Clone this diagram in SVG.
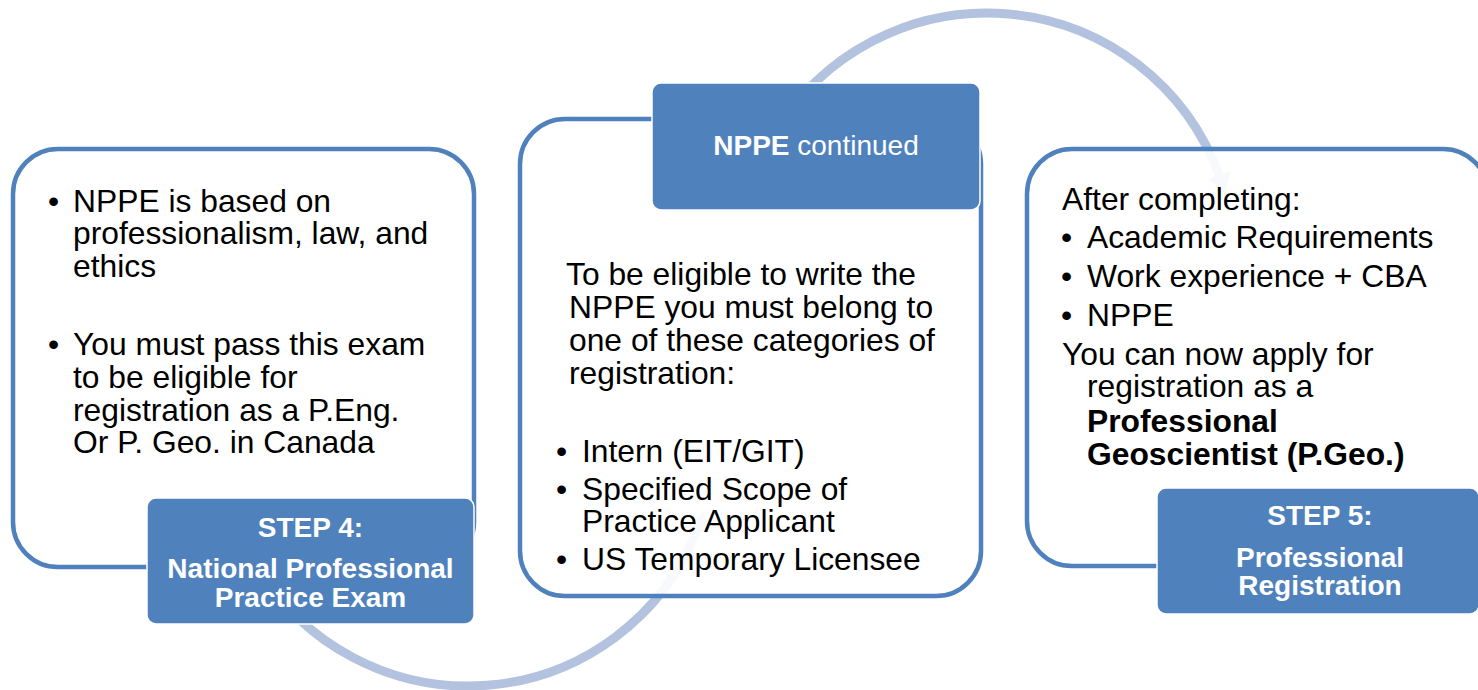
<svg xmlns="http://www.w3.org/2000/svg" width="1478" height="690" viewBox="0 0 1478 690">
<style>
.panel{fill:#ffffff;fill-opacity:0.9;stroke:#4F81BD;stroke-width:4.5}
.label{fill:#4F81BD;stroke:#ffffff;stroke-width:1.5}
.arc{fill:none;stroke:#B3C2DE;stroke-width:9}
.body{font-family:"Liberation Sans",Arial,sans-serif;font-size:31.8px;fill:#000000}
.lbl{font-family:"Liberation Sans",Arial,sans-serif;font-size:28px;font-weight:bold;fill:#ffffff;text-anchor:middle}
.b{font-weight:bold}
.n{font-weight:normal}
</style>
<defs>
<marker id="head" markerUnits="userSpaceOnUse" markerWidth="20" markerHeight="24" refX="1" refY="12" orient="auto">
<path d="M0,0 L19,12 L0,24 z" fill="#B3C2DE"/>
</marker>
</defs>
<g id="connectors">
<path class="arc" d="M255 563 A246 246 0 0 0 697.4 529" marker-end="url(#head)"/>
<path class="arc" d="M773.1 136.5 A247 247 0 0 1 1219.4 176.3" marker-end="url(#head)"/>
</g>
<g id="step4">
<rect class="panel" x="13" y="149" width="461" height="418" rx="45" ry="45"/>
<text class="body" x="48" y="212">•</text>
<text class="body"><tspan x="73" y="212">NPPE is based on</tspan><tspan x="73" y="244">professionalism, law, and</tspan><tspan x="73" y="277">ethics</tspan></text>
<text class="body" x="48" y="355">•</text>
<text class="body"><tspan x="73" y="355">You must pass this exam</tspan><tspan x="73" y="388">to be eligible for</tspan><tspan x="73" y="421">registration as a P.Eng.</tspan><tspan x="73" y="453">Or P. Geo. in Canada</tspan></text>
<rect class="label" x="147" y="498" width="327" height="126" rx="9" ry="9"/>
<text class="lbl"><tspan x="310.5" y="537">STEP 4:</tspan><tspan x="310.5" y="578">National Professional</tspan><tspan x="310.5" y="607">Practice Exam</tspan></text>
</g>
<g id="nppe">
<rect class="panel" x="520" y="119" width="461" height="477" rx="45" ry="45"/>
<text class="body"><tspan x="566" y="285">To be eligible to write the</tspan><tspan x="569" y="318">NPPE you must belong to</tspan><tspan x="569" y="351">one of these categories of</tspan><tspan x="569" y="384">registration:</tspan></text>
<text class="body" x="556" y="462">•</text>
<text class="body" x="582" y="462">Intern (EIT/GIT)</text>
<text class="body" x="556" y="500">•</text>
<text class="body"><tspan x="582" y="500">Specified Scope of</tspan><tspan x="582" y="532">Practice Applicant</tspan></text>
<text class="body" x="556" y="570">•</text>
<text class="body" x="582" y="570">US Temporary Licensee</text>
<rect class="label" x="652" y="83" width="328" height="127" rx="9" ry="9"/>
<text class="lbl" x="816" y="155">NPPE<tspan class="n"> continued</tspan></text>
</g>
<g id="step5">
<rect class="panel" x="1027" y="149" width="461" height="417" rx="45" ry="45"/>
<text class="body" x="1062" y="210">After completing:</text>
<text class="body" x="1061" y="248">•</text>
<text class="body" x="1087" y="248">Academic Requirements</text>
<text class="body" x="1061" y="287">•</text>
<text class="body" x="1087" y="287">Work experience + CBA</text>
<text class="body" x="1061" y="326">•</text>
<text class="body" x="1087" y="326">NPPE</text>
<text class="body"><tspan x="1062" y="365">You can now apply for</tspan><tspan x="1087" y="397">registration as a</tspan><tspan class="b" x="1087" y="432">Professional</tspan><tspan class="b" x="1087" y="465">Geoscientist (P.Geo.)</tspan></text>
<rect class="label" x="1157" y="488" width="322" height="126" rx="9" ry="9"/>
<text class="lbl"><tspan x="1320" y="525">STEP 5:</tspan><tspan x="1320" y="567">Professional</tspan><tspan x="1320" y="595">Registration</tspan></text>
</g>
</svg>
